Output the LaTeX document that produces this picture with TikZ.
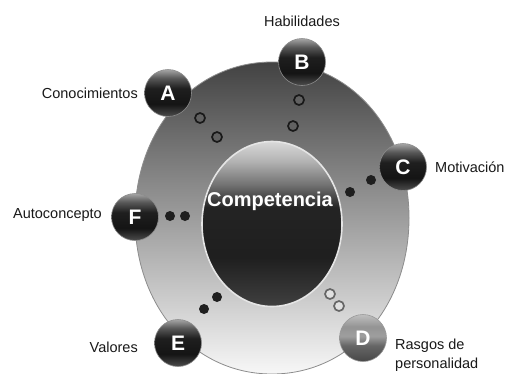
\documentclass[tikz,border=0pt]{standalone}
\usepackage{fontspec}
\setmainfont{Liberation Sans}
\usetikzlibrary{shapes.geometric}
\pgfdeclareverticalshading{darkball}{100bp}{color(0bp)=(black!70); color(25bp)=(black!70); color(38bp)=(black!92); color(55bp)=(black!88); color(66bp)=(black!65); color(75bp)=(black!35); color(100bp)=(black!35)}
\pgfdeclareverticalshading{greyball}{100bp}{color(0bp)=(black!72); color(25bp)=(black!72); color(42bp)=(black!60); color(52bp)=(black!38); color(62bp)=(black!42); color(75bp)=(black!25); color(100bp)=(black!25)}
\pgfdeclareverticalshading{innerball}{100bp}{color(0bp)=(black!75); color(25bp)=(black!75); color(40bp)=(black!88); color(55bp)=(black!86); color(62bp)=(black!55); color(69bp)=(black!30); color(75bp)=(black!15); color(100bp)=(black!15)}
\tikzset{
  x=1pt, y=-1pt,
  ball/.style={circle, minimum size=47pt, inner sep=0pt, shading=darkball, draw=black!45, line width=0.6pt,
    text=white, font=\fontsize{21}{21}\selectfont\bfseries},
  lightball/.style={ball, shading=greyball, draw=black!40},
  ringdot/.style={circle, minimum size=10pt, inner sep=0pt, draw=black!90, line width=1.7pt, fill=black!62},
  lightring/.style={ringdot, draw=black!60, fill=black!12},
  soliddot/.style={circle, minimum size=10pt, inner sep=0pt, fill=black!88},
  lbl/.style={font=\fontsize{14.5}{16}\selectfont, text=black!90, inner sep=0pt},
}
\begin{document}
\begin{tikzpicture}
\useasboundingbox (0,0) rectangle (510,373);
\fill[white] (0,0) rectangle (510,373);
% outer disc
\shade[top color=black!74, middle color=black!38, bottom color=black!3, draw=black!45, line width=0.8pt]
  (272,62) .. controls (194,62) and (135,129) .. (135,218)
  .. controls (135,307) and (194,374) .. (272,374)
  .. controls (350,374) and (409,307) .. (409,218)
  .. controls (409,129) and (350,62) .. (272,62) -- cycle;
% inner ellipse
\node[ellipse, minimum width=140pt, minimum height=165pt, inner sep=0pt, shading=innerball,
  draw=black!10, line width=1.6pt] (core) at (272,224) {};
\node[font=\fontsize{20}{20}\selectfont\bfseries, text=white] (comp) at (270,201) {Competencia};
% dots
\node[ringdot] (a1) at (200,118) {};
\node[ringdot] (a2) at (217,137) {};
\node[ringdot] (b1) at (299,100) {};
\node[ringdot] (b2) at (293,126) {};
\node[soliddot] (c1) at (371,180) {};
\node[soliddot] (c2) at (350,192) {};
\node[soliddot] (f1) at (170,216) {};
\node[soliddot] (f2) at (185,216) {};
\node[soliddot] (e1) at (217,297) {};
\node[soliddot] (e2) at (204,309) {};
\node[lightring] (d1) at (330,294) {};
\node[lightring] (d2) at (339,306) {};
% balls
\node[ball] (A) at (168,93) {A};
\node[ball] (B) at (302,62) {B};
\node[ball] (C) at (403,167) {C};
\node[ball] (F) at (135,217) {F};
\node[ball] (E) at (178,343) {E};
\node[lightball] (D) at (363,338) {D};
% labels
\node[lbl] (lB) at (302,21) {Habilidades};
\node[lbl, anchor=east] (lA) at (138,93) {Conocimientos};
\node[lbl, anchor=west] (lC) at (435,167) {Motivación};
\node[lbl, anchor=east] (lF) at (102,215) {Autoconcepto};
\node[lbl, anchor=east] (lE) at (138,347) {Valores};
\node[lbl, anchor=north west, align=left, font=\fontsize{14.5}{19}\selectfont] (lD) at (395,339) {Rasgos de\\personalidad};
\end{tikzpicture}
\end{document}
